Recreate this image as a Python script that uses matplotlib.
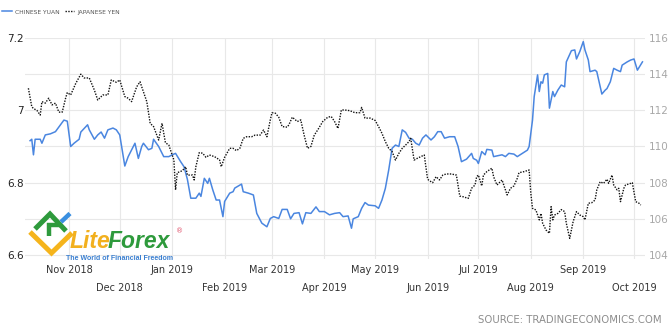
import matplotlib
matplotlib.use("Agg")
import matplotlib.pyplot as plt
from matplotlib.lines import Line2D
import pandas as pd

# ---------------- data ----------------
cny_dates = [
    "2018-10-09", "2018-10-10", "2018-10-11", "2018-10-12", "2018-10-15", "2018-10-16", "2018-10-18",
    "2018-10-21", "2018-10-24", "2018-10-27", "2018-10-29", "2018-10-31", "2018-11-02", "2018-11-04",
    "2018-11-07", "2018-11-08", "2018-11-12", "2018-11-13", "2018-11-16", "2018-11-18", "2018-11-20",
    "2018-11-22", "2018-11-24", "2018-11-27", "2018-11-29", "2018-12-01", "2018-12-04", "2018-12-06",
    "2018-12-09", "2018-12-10", "2018-12-12", "2018-12-14", "2018-12-15", "2018-12-18", "2018-12-20",
    "2018-12-21", "2018-12-24", "2018-12-27", "2018-12-30", "2019-01-01", "2019-01-03", "2019-01-06",
    "2019-01-08", "2019-01-10", "2019-01-12", "2019-01-15", "2019-01-17", "2019-01-18", "2019-01-20",
    "2019-01-22", "2019-01-23", "2019-01-25", "2019-01-27", "2019-01-29", "2019-01-31", "2019-02-01",
    "2019-02-04", "2019-02-06", "2019-02-07", "2019-02-11", "2019-02-12", "2019-02-15", "2019-02-18",
    "2019-02-20", "2019-02-23", "2019-02-26", "2019-02-28", "2019-03-02", "2019-03-05", "2019-03-07",
    "2019-03-10", "2019-03-12", "2019-03-14", "2019-03-17", "2019-03-19", "2019-03-21", "2019-03-24",
    "2019-03-27", "2019-03-29", "2019-04-01", "2019-04-04", "2019-04-07", "2019-04-10", "2019-04-12",
    "2019-04-15", "2019-04-17", "2019-04-18", "2019-04-21", "2019-04-23", "2019-04-25", "2019-04-27",
    "2019-05-01", "2019-05-03", "2019-05-05", "2019-05-07", "2019-05-09", "2019-05-11", "2019-05-13",
    "2019-05-15", "2019-05-17", "2019-05-19", "2019-05-21", "2019-05-23", "2019-05-25", "2019-05-27",
    "2019-05-29", "2019-05-31", "2019-06-03", "2019-06-05", "2019-06-07", "2019-06-09", "2019-06-11",
    "2019-06-14", "2019-06-17", "2019-06-19", "2019-06-21", "2019-06-24", "2019-06-27", "2019-06-28",
    "2019-06-30", "2019-07-01", "2019-07-03", "2019-07-05", "2019-07-06", "2019-07-09", "2019-07-10",
    "2019-07-12", "2019-07-15", "2019-07-17", "2019-07-19", "2019-07-22", "2019-07-24", "2019-07-27",
    "2019-07-30", "2019-07-31", "2019-08-02", "2019-08-03", "2019-08-05", "2019-08-06", "2019-08-07",
    "2019-08-08", "2019-08-09", "2019-08-11", "2019-08-12", "2019-08-14", "2019-08-15", "2019-08-17",
    "2019-08-19", "2019-08-21", "2019-08-22", "2019-08-25", "2019-08-27", "2019-08-28", "2019-08-30",
    "2019-09-01", "2019-09-02", "2019-09-04", "2019-09-05", "2019-09-08", "2019-09-09", "2019-09-12",
    "2019-09-14", "2019-09-15", "2019-09-17", "2019-09-19", "2019-09-21", "2019-09-23", "2019-09-24",
    "2019-09-27", "2019-09-29", "2019-10-01", "2019-10-03", "2019-10-06",
]
cny_values = [
    6.916, 6.920, 6.877, 6.920, 6.920, 6.909, 6.932,
    6.935, 6.941, 6.960, 6.973, 6.970, 6.900, 6.909,
    6.920, 6.940, 6.960, 6.946, 6.920, 6.932, 6.940,
    6.923, 6.946, 6.951, 6.946, 6.932, 6.846, 6.872,
    6.900, 6.909, 6.867, 6.900, 6.909, 6.891, 6.895,
    6.920, 6.900, 6.872, 6.872, 6.877, 6.881, 6.858,
    6.844, 6.809, 6.757, 6.757, 6.771, 6.762, 6.812,
    6.798, 6.812, 6.780, 6.752, 6.752, 6.706, 6.748,
    6.771, 6.775, 6.785, 6.796, 6.775, 6.771, 6.766,
    6.715, 6.688, 6.678, 6.701, 6.706, 6.701, 6.726,
    6.726, 6.700, 6.715, 6.717, 6.686, 6.717, 6.715,
    6.733, 6.720, 6.720, 6.711, 6.715, 6.717, 6.706,
    6.708, 6.674, 6.700, 6.706, 6.729, 6.745, 6.738,
    6.736, 6.729, 6.752, 6.784, 6.835, 6.895, 6.904,
    6.900, 6.946, 6.939, 6.923, 6.920, 6.909, 6.904,
    6.923, 6.932, 6.918, 6.927, 6.941, 6.941, 6.923,
    6.927, 6.927, 6.900, 6.858, 6.865, 6.881, 6.867,
    6.862, 6.853, 6.886, 6.877, 6.892, 6.890, 6.872,
    6.874, 6.877, 6.872, 6.881, 6.879, 6.872, 6.881,
    6.890, 6.900, 6.973, 7.038, 7.098, 7.052, 7.079,
    7.075, 7.098, 7.102, 7.006, 7.052, 7.038, 7.056,
    7.070, 7.065, 7.134, 7.165, 7.167, 7.142, 7.163,
    7.190, 7.167, 7.139, 7.107, 7.111, 7.107, 7.045,
    7.056, 7.060, 7.079, 7.116, 7.111, 7.107, 7.125,
    7.134, 7.139, 7.142, 7.111, 7.134,
]

jpy_dates = [
    "2018-10-08", "2018-10-10", "2018-10-11", "2018-10-13", "2018-10-15", "2018-10-16", "2018-10-18",
    "2018-10-20", "2018-10-22", "2018-10-24", "2018-10-26", "2018-10-28", "2018-10-30", "2018-10-31",
    "2018-11-02", "2018-11-05", "2018-11-08", "2018-11-10", "2018-11-13", "2018-11-16", "2018-11-18",
    "2018-11-21", "2018-11-24", "2018-11-26", "2018-11-29", "2018-12-01", "2018-12-04", "2018-12-06",
    "2018-12-08", "2018-12-11", "2018-12-13", "2018-12-14", "2018-12-17", "2018-12-19", "2018-12-21",
    "2018-12-24", "2018-12-26", "2018-12-27", "2018-12-28", "2018-12-30", "2019-01-01", "2019-01-02",
    "2019-01-03", "2019-01-04", "2019-01-07", "2019-01-09", "2019-01-10", "2019-01-13", "2019-01-14",
    "2019-01-15", "2019-01-17", "2019-01-19", "2019-01-21", "2019-01-23", "2019-01-26", "2019-01-29",
    "2019-01-30", "2019-02-01", "2019-02-04", "2019-02-06", "2019-02-08", "2019-02-10", "2019-02-12",
    "2019-02-14", "2019-02-17", "2019-02-19", "2019-02-22", "2019-02-24", "2019-02-26", "2019-02-28",
    "2019-03-01", "2019-03-03", "2019-03-05", "2019-03-07", "2019-03-10", "2019-03-11", "2019-03-13",
    "2019-03-16", "2019-03-18", "2019-03-20", "2019-03-22", "2019-03-24", "2019-03-26", "2019-03-28",
    "2019-03-31", "2019-04-03", "2019-04-05", "2019-04-07", "2019-04-09", "2019-04-11", "2019-04-13",
    "2019-04-16", "2019-04-19", "2019-04-22", "2019-04-23", "2019-04-25", "2019-04-28", "2019-05-01",
    "2019-05-03", "2019-05-05", "2019-05-07", "2019-05-09", "2019-05-11", "2019-05-13", "2019-05-15",
    "2019-05-17", "2019-05-19", "2019-05-21", "2019-05-22", "2019-05-24", "2019-05-26", "2019-05-28",
    "2019-05-30", "2019-06-01", "2019-06-02", "2019-06-04", "2019-06-06", "2019-06-08", "2019-06-10",
    "2019-06-12", "2019-06-15", "2019-06-18", "2019-06-20", "2019-06-22", "2019-06-25", "2019-06-27",
    "2019-06-29", "2019-06-30", "2019-07-01", "2019-07-03", "2019-07-04", "2019-07-06", "2019-07-09",
    "2019-07-10", "2019-07-12", "2019-07-15", "2019-07-18", "2019-07-20", "2019-07-22", "2019-07-24",
    "2019-07-25", "2019-07-28", "2019-07-31", "2019-08-01", "2019-08-02", "2019-08-04", "2019-08-06",
    "2019-08-07", "2019-08-08", "2019-08-10", "2019-08-12", "2019-08-13", "2019-08-14", "2019-08-15",
    "2019-08-17", "2019-08-19", "2019-08-21", "2019-08-22", "2019-08-24", "2019-08-26", "2019-08-28",
    "2019-08-30", "2019-09-01", "2019-09-02", "2019-09-04", "2019-09-06", "2019-09-08", "2019-09-09",
    "2019-09-11", "2019-09-13", "2019-09-15", "2019-09-16", "2019-09-18", "2019-09-19", "2019-09-21",
    "2019-09-22", "2019-09-23", "2019-09-25", "2019-09-26", "2019-09-29", "2019-09-30", "2019-10-02",
    "2019-10-04", "2019-10-05",
]
jpy_values = [
    113.22, 112.20, 112.10, 112.00, 111.74, 112.48, 112.40,
    112.67, 112.30, 112.40, 111.90, 111.90, 112.67, 112.98,
    112.85, 113.49, 114.00, 113.79, 113.79, 113.12, 112.57,
    112.85, 112.85, 113.68, 113.55, 113.68, 112.76, 112.67,
    112.48, 113.30, 113.58, 113.30, 112.48, 111.28, 111.10,
    110.36, 111.28, 110.75, 110.21, 110.08, 109.53, 109.26,
    107.60, 108.55, 108.66, 108.88, 108.42, 108.42, 108.15,
    108.88, 109.66, 109.63, 109.40, 109.53, 109.44, 109.26,
    108.88, 109.40, 109.90, 109.90, 109.77, 109.90, 110.45,
    110.54, 110.54, 110.63, 110.63, 110.91, 110.54, 111.47,
    111.87, 111.84, 111.62, 111.10, 111.07, 111.20, 111.62,
    111.38, 111.47, 110.63, 109.90, 110.00, 110.63, 110.91,
    111.38, 111.62, 111.66, 111.38, 111.00, 112.02, 112.02,
    111.98, 111.87, 111.87, 112.16, 111.57, 111.57, 111.44,
    111.10, 110.73, 110.27, 109.90, 109.72, 109.25, 109.62,
    109.90, 110.08, 110.27, 110.45, 109.25, 109.35, 109.44,
    109.53, 108.19, 108.11, 108.00, 108.33, 108.15, 108.42,
    108.48, 108.48, 108.42, 107.26, 107.22, 107.13, 107.69,
    107.87, 108.33, 108.42, 107.82, 108.42, 108.61, 108.80,
    108.33, 107.87, 108.15, 107.32, 107.69, 107.82, 108.24,
    108.55, 108.61, 108.70, 107.41, 106.58, 106.49, 105.94,
    106.30, 105.75, 105.38, 105.20, 106.67, 105.94, 106.21,
    106.30, 106.51, 106.40, 105.75, 104.92, 105.84, 106.40,
    106.21, 106.12, 105.94, 106.86, 106.89, 107.04, 107.60,
    108.05, 107.96, 108.19, 107.96, 108.42, 107.87, 107.60,
    107.69, 106.95, 107.69, 107.87, 107.96, 108.00, 106.95,
    106.86, 106.76,
]

series_names = ["CHINESE YUAN", "JAPANESE YEN"]
left_ticks = [6.6, 6.7, 6.8, 6.9, 7.0, 7.1, 7.2]
left_labels = ["6.6", "", "6.8", "", "7", "", "7.2"]
right_ticks = [104, 106, 108, 110, 112, 114, 116]
right_labels = ["104", "106", "108", "110", "112", "114", "116"]
month_ticks_row1 = ["2018-11-01", "2019-01-01", "2019-03-01", "2019-05-01", "2019-07-01", "2019-09-01"]
month_labels_row1 = ["Nov 2018", "Jan 2019", "Mar 2019", "May 2019", "Jul 2019", "Sep 2019"]
month_ticks_row2 = ["2018-12-01", "2019-02-01", "2019-04-01", "2019-06-01", "2019-08-01", "2019-10-01"]
month_labels_row2 = ["Dec 2018", "Feb 2019", "Apr 2019", "Jun 2019", "Aug 2019", "Oct 2019"]
source_text = "SOURCE: TRADINGECONOMICS.COM"

# ---------------- figure ----------------
W, H = 670, 331
fig = plt.figure(figsize=(W / 100, H / 100), dpi=100)
fig.patch.set_facecolor("white")

ax = fig.add_axes([25 / W, 1 - 258.6 / H, 620 / W, (258.6 - 38) / H])
ax2 = ax.twinx()

blue = "#4a86e0"
grid_c = "#e8e8e8"

l1, = ax.plot(pd.to_datetime(cny_dates), cny_values, color=blue, lw=1.1, zorder=3)
l2, = ax2.plot(pd.to_datetime(jpy_dates), jpy_values, color="#111111", lw=1.0,
               linestyle=(0, (1, 1)), zorder=3)

ax.set_xlim(pd.Timestamp("2018-10-06"), pd.Timestamp("2019-10-07 12:00"))
ax.set_ylim(6.59, 7.2)
ax2.set_ylim(103.8, 116)

for a in (ax, ax2):
    for s in a.spines.values():
        s.set_visible(False)

ax.set_yticks(left_ticks)
ax.set_yticklabels(left_labels)
ax.tick_params(axis="y", length=0, pad=1, labelsize=7.5, labelcolor="#222222")
ax.yaxis.grid(True, color=grid_c, lw=0.8)

ax2.set_yticks(right_ticks)
ax2.set_yticklabels(right_labels)
ax2.tick_params(axis="y", length=0, pad=3, labelsize=7.5, labelcolor="#a8a8a8")

ax.set_xticks(pd.to_datetime(month_ticks_row1))
ax.set_xticklabels(month_labels_row1)
ax.set_xticks(pd.to_datetime(month_ticks_row2), minor=True)
ax.set_xticklabels(month_labels_row2, minor=True)
ax.tick_params(axis="x", which="major", length=0, pad=4.8, labelsize=7, labelcolor="#333333")
ax.tick_params(axis="x", which="minor", length=0, pad=17.7, labelsize=7, labelcolor="#333333")
ax.xaxis.grid(True, which="both", color=grid_c, lw=0.8)
ax.set_axisbelow(True)

# legend
leg = fig.legend([l1, l2], series_names, loc="center left",
                 bbox_to_anchor=(2 / W, 1 - 12 / H), ncol=2, frameon=False,
                 fontsize=4.3, handlelength=1.6, handletextpad=0.5,
                 columnspacing=0.9, borderpad=0, borderaxespad=0)
for t in leg.get_texts():
    t.set_color("#555555")

# source
fig.text(662 / W, 1 - 320 / H, source_text, ha="right", va="center",
         fontsize=7.3, color="#8c8c8c")

# LiteForex watermark
def stroke(points, color, lw):
    xs = [p[0] / W for p in points]
    ys = [1 - p[1] / H for p in points]
    fig.add_artist(Line2D(xs, ys, color=color, lw=lw, solid_capstyle="butt",
                          solid_joinstyle="miter", transform=fig.transFigure, zorder=10))

stroke([(30, 232), (51.5, 253), (72, 233)], "#f5b41c", 3.6)
stroke([(35, 229), (50, 214), (66, 231)], "#2e9a3c", 3.6)
stroke([(49, 236), (49, 225), (62, 225)], "#2e9a3c", 3.2)
stroke([(61, 222), (70, 213.5)], "#3a8fe0", 3.2)

fig.text(70 / W, 1 - 248.5 / H, "Lite", fontsize=16.5, fontweight="bold", fontstyle="italic",
         family="Liberation Sans", color="#f2b01e", ha="left", va="baseline", zorder=10)
fig.text(108 / W, 1 - 248.5 / H, "Forex", fontsize=16.5, fontweight="bold", fontstyle="italic",
         family="Liberation Sans", color="#2e9a3c", ha="left", va="baseline", zorder=10)
fig.text(180 / W, 1 - 231 / H, "®", fontsize=5, color="#e0506a", ha="center", va="center", zorder=10)
fig.text(119 / W, 1 - 258.5 / H, "The World of Financial Freedom", fontsize=5, fontweight="bold",
         family="Liberation Sans", color="#3a7fd0", ha="center", va="center", zorder=10)

fig.savefig("out.png", dpi=100)
